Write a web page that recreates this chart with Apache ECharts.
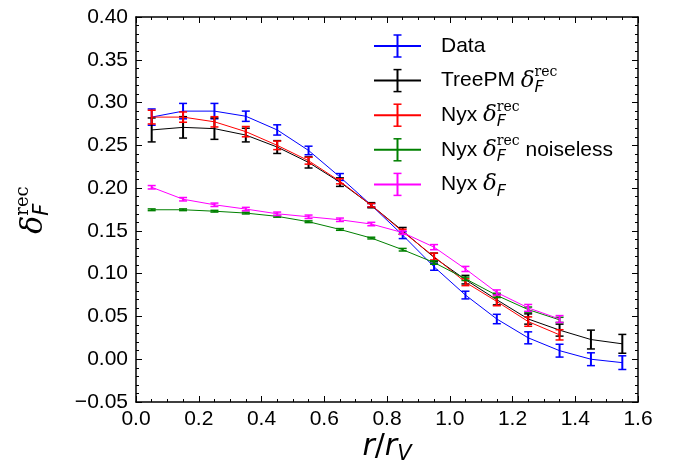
<!DOCTYPE html>
<html><head><meta charset="utf-8">
<script src="https://cdn.jsdelivr.net/npm/echarts@6/dist/echarts.min.js"></script>
<style>html,body{margin:0;padding:0;background:#fff}#c{width:692px;height:468px}</style>
</head><body><div id="c"></div>
<script>
// r / r_V bin centres
const rValues = [0.05,0.15,0.25,0.35,0.45,0.55,0.65,0.75,0.85,0.95,1.05,1.15,1.25,1.35,1.45,1.55];
// Data (blue)
const dataY   = [0.283,0.290,0.290,0.284,0.268,0.244,0.213,0.180,0.145,0.108,0.075,0.047,0.025,0.010,0.000,-0.004];
const dataErr = [0.0095,0.009,0.009,0.006,0.006,0.005,0.004,0.002,0.004,0.004,0.0045,0.0055,0.007,0.0075,0.0075,0.008];
// TreePM delta_F^rec (black)
const treeY   = [0.268,0.271,0.2695,0.262,0.248,0.230,0.207,0.180,0.150,0.119,0.093,0.0695,0.047,0.034,0.023,0.018];
const treeErr = [0.014,0.0125,0.0125,0.008,0.0075,0.0065,0.005,0.003,0.004,0.005,0.005,0.006,0.006,0.007,0.011,0.011];
// Nyx delta_F^rec (red)
const nyxRecY   = [0.283,0.283,0.2775,0.266,0.250,0.232,0.208,0.180,0.149,0.120,0.090,0.0675,0.044,0.0285];
const nyxRecErr = [0.008,0.006,0.006,0.006,0.005,0.004,0.003,0.002,0.003,0.004,0.004,0.005,0.0055,0.006];
// Nyx delta_F^rec noiseless (green)
const nyxNlY   = [0.1747,0.1747,0.173,0.1708,0.167,0.1607,0.1517,0.1416,0.128,0.113,0.094,0.0746,0.058,0.046];
const nyxNlErr = [0.001,0.001,0.001,0.001,0.001,0.001,0.001,0.001,0.0015,0.002,0.002,0.0025,0.003,0.003];
// Nyx delta_F (magenta)
const nyxY   = [0.201,0.187,0.1805,0.1755,0.170,0.1665,0.163,0.158,0.148,0.131,0.1055,0.078,0.060,0.047];
const nyxErr = [0.002,0.002,0.002,0.002,0.002,0.002,0.002,0.002,0.002,0.003,0.003,0.003,0.004,0.004];
// axis ticks
const xTicks = [0.0,0.2,0.4,0.6,0.8,1.0,1.2,1.4,1.6];
const yTicks = [-0.05,0.00,0.05,0.10,0.15,0.20,0.25,0.30,0.35,0.40];

const seriesDefs = [
  {name:'Data', color:'#0000ff', y:dataY, e:dataErr},
  {name:'TreePM', color:'#000000', y:treeY, e:treeErr},
  {name:'Nyx rec', color:'#ff0000', y:nyxRecY, e:nyxRecErr},
  {name:'Nyx noiseless', color:'#008000', y:nyxNlY, e:nyxNlErr},
  {name:'Nyx', color:'#ff00ff', y:nyxY, e:nyxErr}
];

const chart = echarts.init(document.getElementById('c'), null, {renderer:'canvas'});

const series = [];
seriesDefs.forEach((s, k) => {
  series.push({
    type:'line', name:s.name, data:s.y.map((v,i)=>[rValues[i], v]),
    showSymbol:false, symbol:'none', lineStyle:{color:s.color, width:1}, itemStyle:{color:s.color},
    z:2+k, animation:false, silent:true
  });
  series.push({
    type:'custom', name:s.name+' err', data:s.y.map((v,i)=>[rValues[i], v - s.e[i], v + s.e[i]]),
    encode:{x:0, y:[1,2]}, z:2+k, animation:false, silent:true,
    renderItem:function(params, api){
      const x = api.value(0);
      const p1 = api.coord([x, api.value(1)]);
      const p2 = api.coord([x, api.value(2)]);
      const c = s.color, hw = 4;
      return {type:'group', children:[
        {type:'line', shape:{x1:p1[0], y1:p1[1], x2:p2[0], y2:p2[1]}, style:{stroke:c, lineWidth:2}},
        {type:'line', shape:{x1:p1[0]-hw, y1:p1[1], x2:p1[0]+hw, y2:p1[1]}, style:{stroke:c, lineWidth:1.5}},
        {type:'line', shape:{x1:p2[0]-hw, y1:p2[1], x2:p2[0]+hw, y2:p2[1]}, style:{stroke:c, lineWidth:1.5}}
      ]};
    }
  });
});

// text measurement helper
const mctx = document.createElement('canvas').getContext('2d');
function measure(t, font){ mctx.font = font; return mctx.measureText(t).width; }
function buildMath(pieces, x0, y0){
  const out = []; let x = x0;
  pieces.forEach(p => {
    if (p.stack) {
      let w = 0;
      p.stack.forEach(q => {
        out.push({type:'text', x:x, y:y0 + q.dy, style:{text:q.t, font:q.f, fill:'#000', textAlign:'left', textVerticalAlign:'middle'}});
        w = Math.max(w, measure(q.t, q.f));
      });
      x += w;
    } else {
      out.push({type:'text', x:x, y:y0 + (p.dy||0), style:{text:p.t, font:p.f, fill:'#000', textAlign:'left', textVerticalAlign:'middle'}});
      x += measure(p.t, p.f);
    }
  });
  return {els:out, width:x - x0};
}
const SANS = '"Liberation Sans", Arial, sans-serif';
const LF = '21px ' + SANS;
const deltaF = 'italic 23px "DejaVu Serif", serif';
const recF = '14px "DejaVu Serif", serif';
const subF = 'italic 16px "DejaVu Sans", sans-serif';
function dRec(){ return [{t:'δ', f:deltaF}, {stack:[{t:'rec', f:recF, dy:-8}, {t:'F', f:subF, dy:7}]}]; }

const legendTexts = [
  [{t:'Data', f:LF}],
  [{t:'TreePM ', f:LF}].concat(dRec()),
  [{t:'Nyx ', f:LF}].concat(dRec()),
  [{t:'Nyx ', f:LF}].concat(dRec()).concat([{t:' noiseless', f:LF}]),
  [{t:'Nyx ', f:LF}, {t:'δ', f:deltaF}, {t:'F', f:subF, dy:7}]
];

const graphics = [];
const legX0 = 374, legX1 = 421, legTextX = 441, legY0 = 46, legDy = 34.6;
seriesDefs.forEach((s, i) => {
  const y = legY0 + i*legDy, cx = (legX0+legX1)/2;
  graphics.push({type:'line', shape:{x1:legX0, y1:y, x2:legX1, y2:y}, style:{stroke:s.color, lineWidth:2}});
  graphics.push({type:'line', shape:{x1:cx, y1:y-11, x2:cx, y2:y+11}, style:{stroke:s.color, lineWidth:2}});
  graphics.push({type:'line', shape:{x1:cx-4, y1:y-11, x2:cx+4, y2:y-11}, style:{stroke:s.color, lineWidth:1.5}});
  graphics.push({type:'line', shape:{x1:cx-4, y1:y+11, x2:cx+4, y2:y+11}, style:{stroke:s.color, lineWidth:1.5}});
  buildMath(legendTexts[i], legTextX, y).els.forEach(e => graphics.push(e));
});

// y-axis title (rotated)
const yT = buildMath([{t:'δ', f:'italic 30px "DejaVu Serif", serif'},
  {stack:[{t:'rec', f:'18px "DejaVu Serif", serif', dy:-11}, {t:'F', f:'italic 21px "DejaVu Sans", sans-serif', dy:9}]}], 0, 0);
yT.els.forEach(e => { e.x -= yT.width/2; });
graphics.push({type:'group', x:34, y:210, rotation:Math.PI/2, children:yT.els});

// x-axis title
const xT = buildMath([{t:'r', f:'italic 30px "DejaVu Sans", sans-serif'}, {t:'/', f:'30px "DejaVu Sans", sans-serif'},
  {t:'r', f:'italic 30px "DejaVu Sans", sans-serif'}, {t:'V', f:'italic 21px "DejaVu Sans", sans-serif', dy:8}], 0, 0);
xT.els.forEach(e => { e.x -= xT.width/2; });
graphics.push({type:'group', x:387, y:447, children:xT.els});

function axisCommon(){
  return {
    axisLine:{show:true, onZero:false, lineStyle:{color:'#000', width:1.5}},
    axisTick:{show:true, inside:true, length:6, lineStyle:{color:'#000', width:1}},
    splitLine:{show:false}
  };
}
const fmtX = v => v.toFixed(1);
const fmtY = v => (Math.abs(v) < 1e-9 ? '0.00' : (v < 0 ? '\u2212' + Math.abs(v).toFixed(2) : v.toFixed(2)));

chart.setOption({
  animation:false,
  backgroundColor:'#fff',
  grid:{left:136, right:54, top:17, bottom:66},
  xAxis:[
    Object.assign(axisCommon(), {type:'value', position:'bottom', min:xTicks[0], max:xTicks[xTicks.length-1], interval:0.2,
      minorTick:{show:true, splitNumber:4, length:3, lineStyle:{color:'#000'}},
      axisLabel:{color:'#000', fontSize:21, fontFamily:SANS, margin:7, formatter:fmtX}}),
    Object.assign(axisCommon(), {type:'value', position:'top', min:xTicks[0], max:xTicks[xTicks.length-1], interval:0.2,
      minorTick:{show:true, splitNumber:4, length:3, lineStyle:{color:'#000'}}, axisLabel:{show:false}})
  ],
  yAxis:[
    Object.assign(axisCommon(), {type:'value', position:'left', min:yTicks[0], max:yTicks[yTicks.length-1], interval:0.05,
      minorTick:{show:true, splitNumber:5, length:3, lineStyle:{color:'#000'}},
      axisLabel:{color:'#000', fontSize:21, fontFamily:SANS, margin:8, formatter:fmtY}}),
    Object.assign(axisCommon(), {type:'value', position:'right', min:yTicks[0], max:yTicks[yTicks.length-1], interval:0.05,
      minorTick:{show:true, splitNumber:5, length:3, lineStyle:{color:'#000'}}, axisLabel:{show:false}})
  ],
  series:series,
  graphic:graphics
});
</script>
</body></html>
